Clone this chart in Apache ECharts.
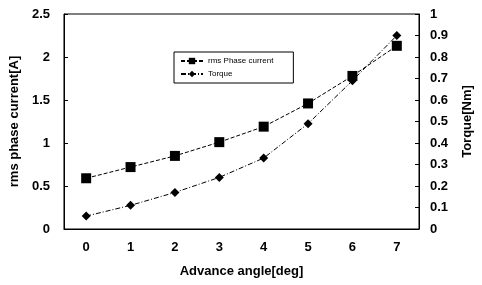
<!DOCTYPE html>
<html>
<head>
<meta charset="utf-8">
<script src="https://cdn.jsdelivr.net/npm/echarts@6/dist/echarts.min.js"></script>
<style>
  html, body { margin: 0; padding: 0; background: #fff; }
  #chart { width: 482px; height: 285px; }
</style>
</head>
<body>
<div id="chart"></div>
<script>
// advance angle [deg]
var angles = ['0', '1', '2', '3', '4', '5', '6', '7']
// rms phase current [A]
var current = [0.59, 0.72, 0.85, 1.01, 1.19, 1.46, 1.78, 2.13]
// torque [Nm]
var torque = [0.06, 0.11, 0.17, 0.24, 0.33, 0.49, 0.69, 0.90]

var font = 'Liberation Sans, Arial, sans-serif'

var chart = echarts.init(document.getElementById('chart'))
chart.setOption({
  animation: false,
  grid: {
    left: 61, right: 55, top: 14, bottom: 56,
    show: true, borderColor: '#000', borderWidth: 1
  },
  legend: {
    orient: 'vertical',
    left: 174, top: 52,
    width: 117,
    itemWidth: 22, itemHeight: 8, itemGap: 5,
    padding: [5, 20, 5, 6],
    borderColor: '#000', borderWidth: 1,
    textStyle: { fontFamily: font, fontSize: 8, color: '#000' },
    data: ['rms Phase current', 'Torque']
  },
  xAxis: {
    type: 'category',
    data: angles,
    boundaryGap: true,
    name: 'Advance angle[deg]',
    nameLocation: 'middle',
    nameGap: 36,
    nameTextStyle: { fontFamily: font, fontSize: 13, fontWeight: 'bold', color: '#000' },
    axisLine: { lineStyle: { color: '#000' } },
    axisTick: { inside: true, length: 4, lineStyle: { color: '#000' } },
    axisLabel: { margin: 12, fontFamily: font, fontSize: 13, fontWeight: 'bold', color: '#000' },
    splitLine: { show: false }
  },
  yAxis: [
    {
      type: 'value',
      min: 0, max: 2.5, interval: 0.5,
      name: 'rms phase current[A]',
      nameLocation: 'middle',
      nameRotate: 90,
      nameGap: 33,
      nameTextStyle: { fontFamily: font, fontSize: 13, fontWeight: 'bold', color: '#000' },
      axisLine: { show: true, lineStyle: { color: '#000' } },
      axisTick: { show: true, inside: true, length: 4, lineStyle: { color: '#000' } },
      axisLabel: { margin: 14, fontFamily: font, fontSize: 13, fontWeight: 'bold', color: '#000' },
      splitLine: { show: false }
    },
    {
      type: 'value',
      min: 0, max: 1, interval: 0.1,
      name: 'Torque[Nm]',
      nameLocation: 'middle',
      nameRotate: 90,
      nameGap: 42,
      nameTextStyle: { fontFamily: font, fontSize: 13, fontWeight: 'bold', color: '#000' },
      axisLine: { show: true, lineStyle: { color: '#000' } },
      axisTick: { show: true, inside: true, length: 4, lineStyle: { color: '#000' } },
      axisLabel: { margin: 11, fontFamily: font, fontSize: 13, fontWeight: 'bold', color: '#000' },
      splitLine: { show: false }
    }
  ],
  series: [
    {
      name: 'rms Phase current',
      type: 'line',
      yAxisIndex: 0,
      data: current,
      symbol: 'rect',
      symbolSize: 10,
      itemStyle: { color: '#000' },
      lineStyle: { color: '#000', width: 1, type: [4, 2] }
    },
    {
      name: 'Torque',
      type: 'line',
      yAxisIndex: 1,
      data: torque,
      symbol: 'diamond',
      symbolSize: 9,
      itemStyle: { color: '#000' },
      lineStyle: { color: '#000', width: 1, type: [5, 2, 1, 2] }
    }
  ]
})
</script>
</body>
</html>
